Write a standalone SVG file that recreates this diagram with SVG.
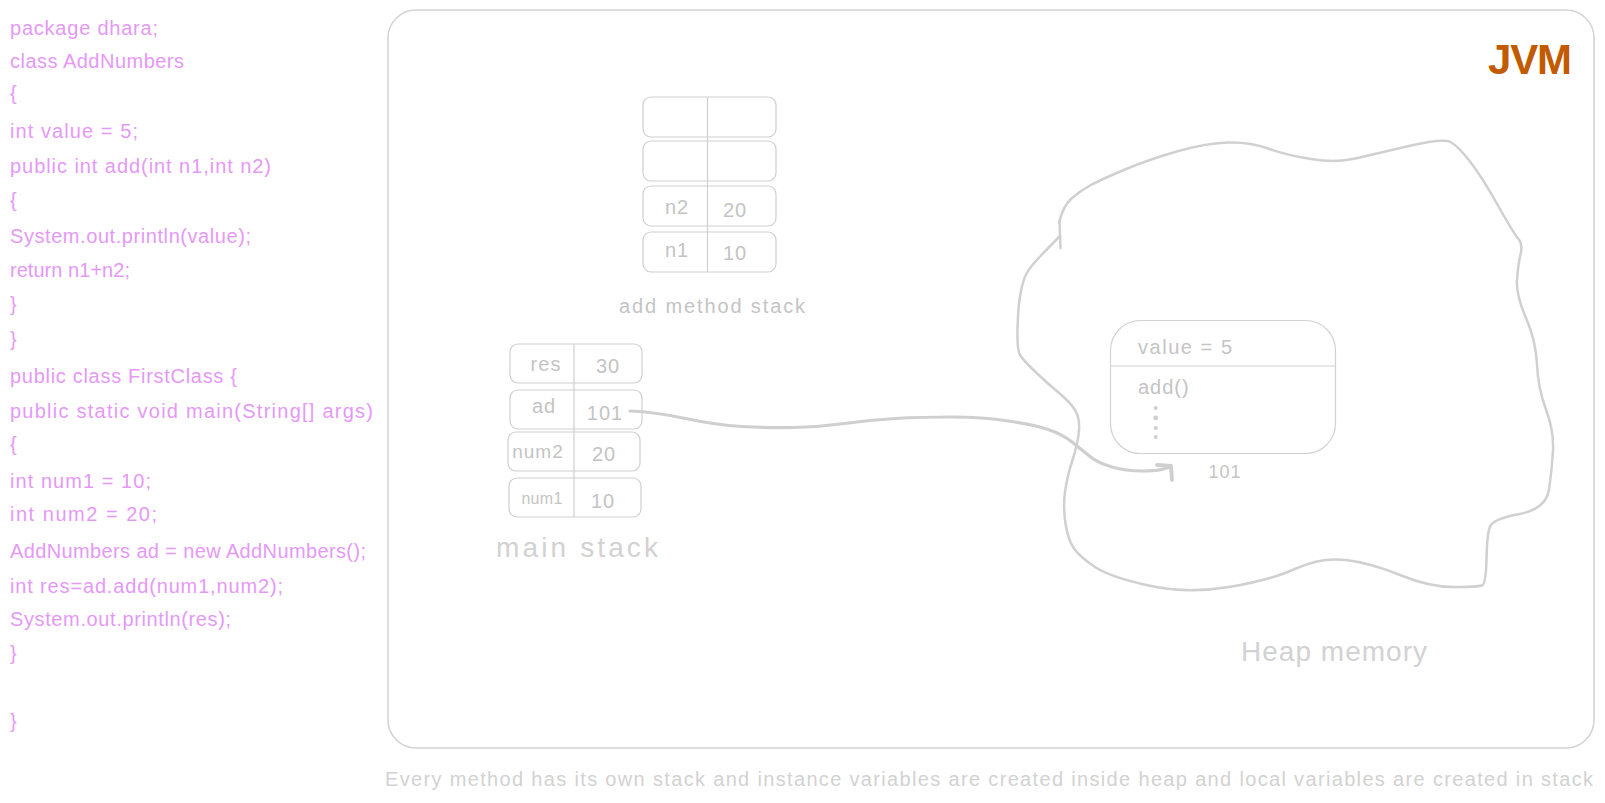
<svg xmlns="http://www.w3.org/2000/svg" width="1605" height="803" viewBox="0 0 1605 803">
<style>
  text { font-family: "Liberation Sans", Arial, sans-serif; }
  .code { fill: #e599f7; font-size: 20px; }
  .lbl { fill: #c4c4c4; font-size: 20px; letter-spacing: 1px; }
  .big { fill: #d2d2d2; font-size: 28px; }
  .cell { fill: none; stroke: #cfcfcf; stroke-width: 1.2; }
  .div { stroke: #cfcfcf; stroke-width: 1.2; }
  .sk { fill: none; stroke: #d0d0d0; stroke-width: 2.5; stroke-linecap: round; stroke-linejoin: round; }
  .mid { text-anchor: middle; }
</style>
<rect width="1605" height="803" fill="#ffffff"/>

<g id="code">
  <text class="code" x="10" y="35" textLength="148" lengthAdjust="spacing">package dhara;</text>
  <text class="code" x="10" y="68" textLength="174" lengthAdjust="spacing">class AddNumbers</text>
  <text class="code" x="10" y="100">{</text>
  <text class="code" x="10" y="138" textLength="128" lengthAdjust="spacing">int value = 5;</text>
  <text class="code" x="10" y="173" textLength="261" lengthAdjust="spacing">public int add(int n1,int n2)</text>
  <text class="code" x="10" y="207">{</text>
  <text class="code" x="10" y="243" textLength="241" lengthAdjust="spacing">System.out.println(value);</text>
  <text class="code" x="10" y="277" textLength="120" lengthAdjust="spacing">return n1+n2;</text>
  <text class="code" x="10" y="311">}</text>
  <text class="code" x="10" y="346">}</text>
  <text class="code" x="10" y="383" textLength="227" lengthAdjust="spacing">public class FirstClass {</text>
  <text class="code" x="10" y="418" textLength="363" lengthAdjust="spacing">public static void main(String[] args)</text>
  <text class="code" x="10" y="451">{</text>
  <text class="code" x="10" y="488" textLength="141" lengthAdjust="spacing">int num1 = 10;</text>
  <text class="code" x="10" y="521" textLength="147" lengthAdjust="spacing">int num2 = 20;</text>
  <text class="code" x="10" y="558" textLength="356" lengthAdjust="spacing">AddNumbers ad = new AddNumbers();</text>
  <text class="code" x="10" y="593" textLength="273" lengthAdjust="spacing">int res=ad.add(num1,num2);</text>
  <text class="code" x="10" y="626" textLength="221" lengthAdjust="spacing">System.out.println(res);</text>
  <text class="code" x="10" y="660">}</text>
  <text class="code" x="10" y="728">}</text>
</g>

<g id="jvm">
  <rect x="388" y="10" width="1206" height="738" rx="28" fill="none" stroke="#d4d4d4" stroke-width="1.6"/>
  <text x="1488" y="74" font-size="42" font-weight="bold" fill="#c25a00" textLength="84">JVM</text>
</g>

<g id="add-method-stack">
  <rect class="cell" x="643" y="97" width="133" height="40" rx="8"/>
  <rect class="cell" x="643" y="141" width="133" height="40" rx="8"/>
  <rect class="cell" x="643" y="186" width="133" height="40" rx="8"/>
  <rect class="cell" x="643" y="232" width="133" height="40" rx="8"/>
  <line class="div" x1="707.5" y1="97" x2="707.5" y2="272"/>
  <text class="lbl mid" x="677" y="214">n2</text>
  <text class="lbl mid" x="735" y="217">20</text>
  <text class="lbl mid" x="677" y="257">n1</text>
  <text class="lbl mid" x="735" y="260">10</text>
  <text class="lbl" x="619" y="313" textLength="187">add method stack</text>
</g>

<g id="main-stack">
  <rect class="cell" x="510" y="344" width="132" height="39" rx="8"/>
  <rect class="cell" x="510" y="390" width="132" height="39" rx="8"/>
  <rect class="cell" x="508" y="432" width="132" height="39" rx="8"/>
  <rect class="cell" x="509" y="478" width="132" height="39" rx="8"/>
  <line class="div" x1="574" y1="344" x2="574" y2="517"/>
  <text class="lbl mid" x="546" y="371">res</text>
  <text class="lbl mid" x="608" y="373">30</text>
  <text class="lbl mid" x="544" y="413">ad</text>
  <text class="lbl mid" x="605" y="420">101</text>
  <text class="lbl mid" x="538" y="458" style="font-size:19px;letter-spacing:1px">num2</text>
  <text class="lbl mid" x="604" y="461">20</text>
  <text class="lbl mid" x="542" y="504" style="font-size:16px;letter-spacing:0.3px">num1</text>
  <text class="lbl mid" x="603" y="508">10</text>
  <text class="big" x="496" y="557" textLength="162">main stack</text>
</g>

<g id="heap-memory">
  <path class="sk" d="M 1059,223 Q 1063,206 1071.5,198.5 Q 1080,191 1090,185.5 Q 1100,180 1125,169.5 Q 1150,159 1178.5,151 Q 1207,143 1228.5,142.5 Q 1250,142 1268,148.5 Q 1286,155 1311,159 Q 1336,163 1355.5,158.5 Q 1375,154 1409,146 Q 1443,138 1450.5,142 Q 1458,146 1470,161.5 Q 1482,177 1498,205.5 Q 1514,234 1518.5,239 Q 1523,244 1520.5,254.5 Q 1518,265 1517,280 Q 1516,295 1526,318 Q 1536,341 1537,364.5 Q 1538,388 1546,409.5 Q 1554,431 1553,450.5 Q 1552,470 1549,489.5 Q 1546,509 1519.5,514 Q 1493,519 1490,526.5 Q 1487,534 1486.5,559 Q 1486,584 1482,585.5 Q 1478,587 1453.5,587 Q 1429,587 1400,575 Q 1371,563 1346,560 Q 1321,557 1296,568.5 Q 1271,580 1229,587 Q 1187,594 1148.5,585.5 Q 1110,577 1095,567 Q 1080,557 1074,548.5 Q 1068,540 1065.5,523.5 Q 1063,507 1065,492 Q 1067,477 1072.5,460 Q 1078,443 1079,430.5 Q 1080,418 1075,410 Q 1070,402 1058.5,392.5 Q 1047,383 1035,371.5 Q 1023,360 1020,355 Q 1017,350 1017.5,328.5 Q 1018,307 1020.5,293.5 Q 1023,280 1026.5,273.5 Q 1030,267 1041.5,255 Q 1053,243 1056.5,239.5 L 1060,236"/>
  <path class="sk" d="M 1059.5,221 L 1060.5,248" stroke-width="3.5"/>
  <text class="big" x="1241" y="661" textLength="186">Heap memory</text>
</g>

<g id="object-101">
  <rect x="1110.5" y="320.5" width="225" height="133" rx="30" fill="none" stroke="#d2d2d2" stroke-width="1.2"/>
  <line x1="1110.5" y1="366" x2="1335.5" y2="366" stroke="#d2d2d2" stroke-width="1.2"/>
  <text class="lbl" x="1138" y="354" textLength="95">value = 5</text>
  <text class="lbl" x="1138" y="394">add()</text>
  <g fill="#cfcfcf">
    <circle cx="1155.7" cy="408" r="2"/>
    <circle cx="1155.7" cy="418" r="2.4"/>
    <circle cx="1155.7" cy="428" r="2"/>
    <circle cx="1155.7" cy="437" r="2"/>
  </g>
  <text class="lbl mid" x="1225" y="478" style="font-size:18px">101</text>
</g>

<g id="connectors">
  <path d="M 630,411 Q 655,412 685.5,418.5 Q 716,425 742,426.5 Q 768,428 793.5,427.5 Q 819,427 844.5,423.5 Q 870,420 895.5,418.5 Q 921,417 952,417 Q 983,417 1008.5,421 Q 1034,425 1048,429.5 Q 1062,434 1072,442 Q 1082,450 1090,456.5 Q 1098,463 1112,467 Q 1126,471 1141.5,471 Q 1157,471 1163.5,469 L 1170,467" fill="none" stroke="#cfcfcf" stroke-width="3.2" stroke-linecap="round" stroke-linejoin="round"/>
  <path d="M 1157,465 L 1171,466 L 1172,480" fill="none" stroke="#cfcfcf" stroke-width="3.8" stroke-linecap="round" stroke-linejoin="round"/>
</g>

<g id="caption">
  <text class="lbl" x="385" y="786" style="fill:#d2d2d2" textLength="1209">Every method has its own stack and instance variables are created inside heap and local variables are created in stack</text>
</g>
</svg>
